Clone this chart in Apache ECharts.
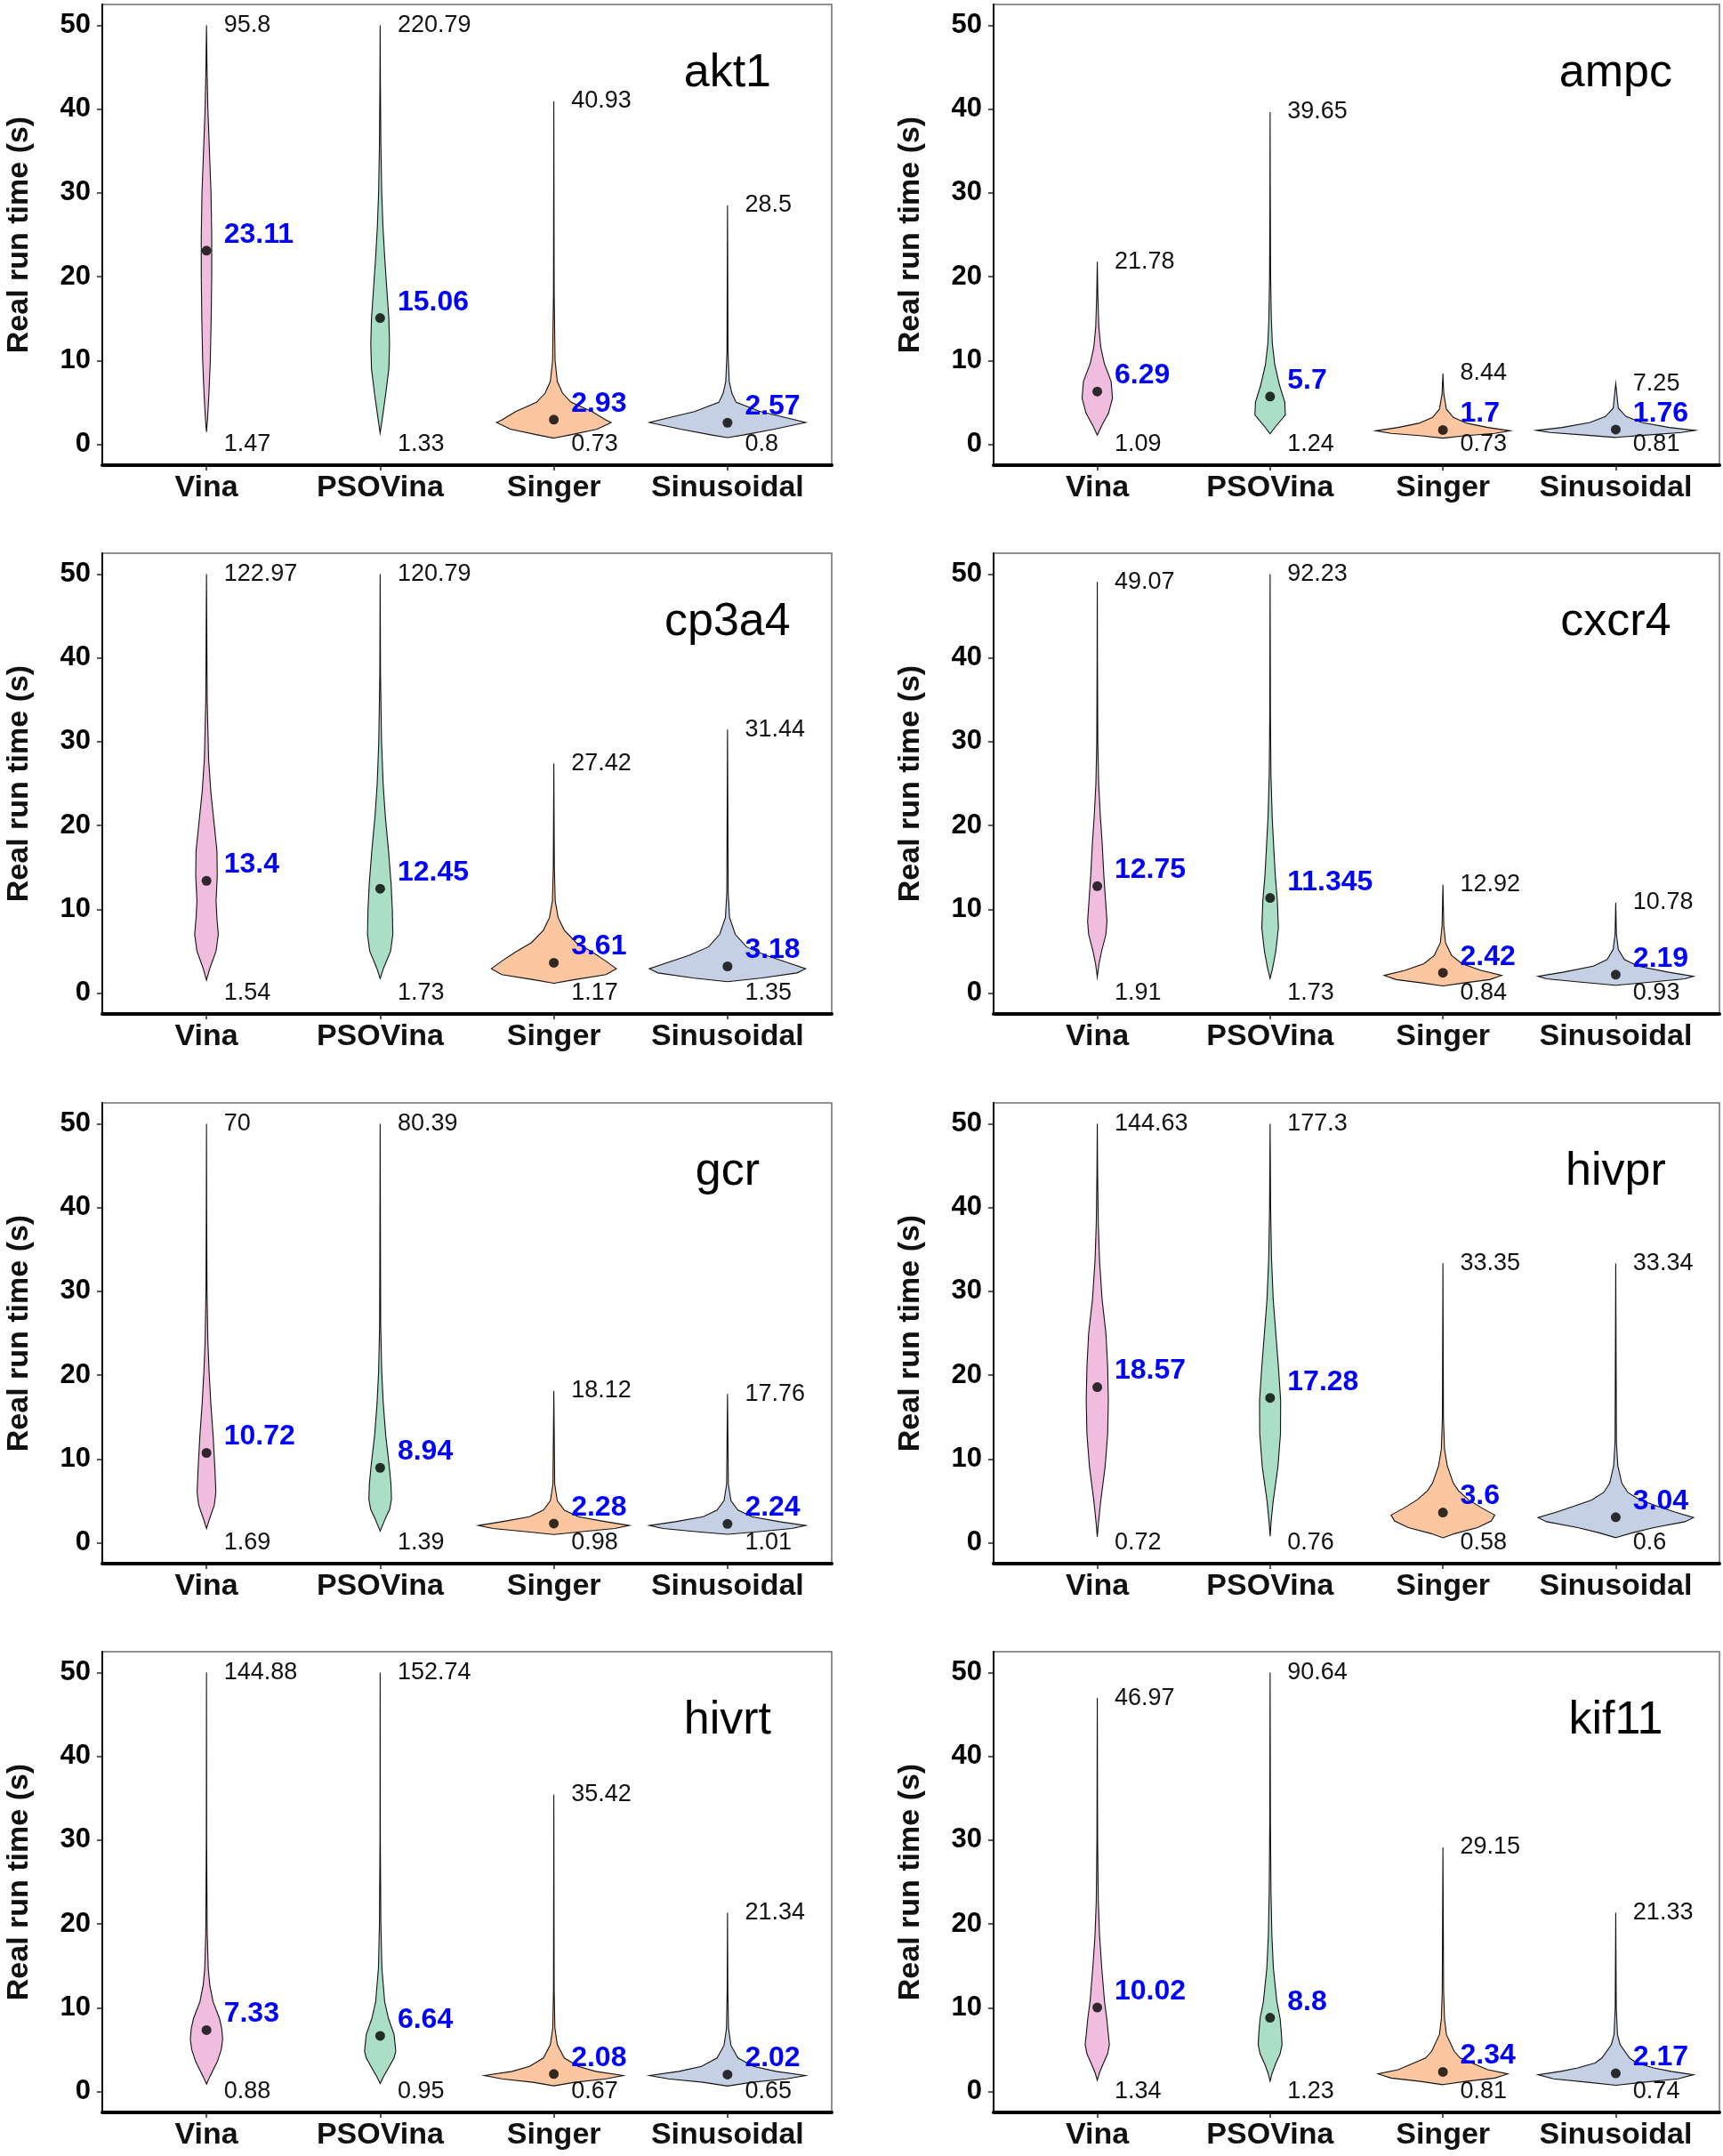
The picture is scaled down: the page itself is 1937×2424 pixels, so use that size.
<!DOCTYPE html>
<html>
<head>
<meta charset="utf-8">
<style>
html, body { margin: 0; padding: 0; background: #fff; }
#main { width: 1937px; height: 2424px; }
</style>
</head>
<body>
<div id="main"></div>
<script src="https://cdn.jsdelivr.net/npm/echarts@6/dist/echarts.min.js"></script>
<script>
// targets (one panel each) and the four methods
var targets = ['akt1', 'ampc', 'cp3a4', 'cxcr4', 'gcr', 'hivpr', 'hivrt', 'kif11'];
var methods = ['Vina', 'PSOVina', 'Singer', 'Sinusoidal'];
var yTicks = [0, 10, 20, 30, 40, 50];

// per target: [Vina, PSOVina, Singer, Sinusoidal]
var medianTimes = [
  [23.11, 15.06, 2.93, 2.57], [6.29, 5.7, 1.7, 1.76], [13.4, 12.45, 3.61, 3.18], [12.75, 11.345, 2.42, 2.19],
  [10.72, 8.94, 2.28, 2.24], [18.57, 17.28, 3.6, 3.04], [7.33, 6.64, 2.08, 2.02], [10.02, 8.8, 2.34, 2.17]
];
var maxTimes = [
  [95.8, 220.79, 40.93, 28.5], [21.78, 39.65, 8.44, 7.25], [122.97, 120.79, 27.42, 31.44], [49.07, 92.23, 12.92, 10.78],
  [70, 80.39, 18.12, 17.76], [144.63, 177.3, 33.35, 33.34], [144.88, 152.74, 35.42, 21.34], [46.97, 90.64, 29.15, 21.33]
];
var minTimes = [
  [1.47, 1.33, 0.73, 0.8], [1.09, 1.24, 0.73, 0.81], [1.54, 1.73, 1.17, 1.35], [1.91, 1.73, 0.84, 0.93],
  [1.69, 1.39, 0.98, 1.01], [0.72, 0.76, 0.58, 0.6], [0.88, 0.95, 0.67, 0.65], [1.34, 1.23, 0.81, 0.74]
];

// violin outlines: [time, half width in category units]
var shapeAkt1 = [
  [[1.47,0],[3,0.006],[6,0.014],[10,0.022],[15,0.027],[20,0.03],[25,0.03],[30,0.026],[35,0.017],[40,0.008],[45,0.003],[50,0]],
  [[1.33,0],[3,0.012],[6,0.032],[9,0.05],[12,0.054],[15,0.05],[18,0.04],[22,0.027],[26,0.016],[30,0.009],[36,0.004],[43,0.0015],[50,0]],
  [[0.73,0],[1.1,0.09],[1.8,0.25],[2.6,0.33],[2.9,0.3],[3.9,0.22],[5,0.1],[6.1,0.05],[7.5,0.02],[10,0.007],[18,0.002],[40.93,0]],
  [[0.8,0],[1.1,0.09],[1.8,0.27],[2.6,0.45],[3.2,0.33],[3.9,0.19],[5,0.05],[6.1,0.025],[7.5,0.01],[11,0.003],[28.5,0]]
];
var shapeAmpc = [
  [[1.09,0],[2.2,0.025],[3.7,0.065],[5.5,0.088],[7.5,0.08],[9.7,0.04],[11.6,0.02],[14,0.009],[18,0.003],[21.78,0]],
  [[1.24,0],[2.2,0.035],[3.5,0.088],[5,0.085],[7,0.055],[9.5,0.027],[12,0.013],[15,0.007],[20,0.003],[30,0.001],[39.65,0]],
  [[0.73,0],[1.0,0.12],[1.3,0.3],[1.6,0.39],[2.0,0.26],[2.5,0.14],[3.2,0.06],[4.2,0.02],[6,0.005],[8.44,0]],
  [[0.81,0],[1.1,0.18],[1.4,0.38],[1.65,0.46],[2.0,0.31],[2.6,0.15],[3.3,0.06],[4.3,0.015],[7.25,0]]
];
var shapeCp3a4 = [
  [[1.54,0],[3,0.02],[5,0.055],[7,0.068],[9,0.06],[11,0.055],[14,0.062],[17,0.06],[20,0.045],[24,0.025],[28,0.012],[35,0.004],[50,0]],
  [[1.73,0],[3,0.02],[5,0.06],[7,0.073],[10,0.07],[13,0.063],[17,0.048],[21,0.03],[25,0.017],[30,0.008],[38,0.002],[50,0]],
  [[1.17,0],[1.6,0.12],[2.2,0.3],[2.9,0.36],[3.8,0.3],[4.9,0.22],[6,0.13],[7.5,0.06],[9,0.025],[11,0.008],[15,0.003],[27.42,0]],
  [[1.35,0],[1.8,0.2],[2.4,0.4],[2.9,0.45],[3.6,0.35],[4.5,0.22],[5.5,0.11],[7,0.045],[9,0.012],[12,0.004],[31.44,0]]
];
var shapeCxcr4 = [
  [[1.91,0],[3.5,0.01],[5,0.025],[7,0.05],[8.6,0.056],[11,0.048],[14,0.038],[18,0.028],[21,0.018],[25,0.008],[30,0.003],[40,0.001],[49.07,0]],
  [[1.73,0],[3,0.015],[5,0.033],[7.8,0.048],[11,0.042],[14,0.03],[17,0.022],[21,0.012],[26,0.005],[33,0.002],[50,0]],
  [[0.84,0],[1.2,0.12],[1.6,0.27],[2.1,0.34],[2.7,0.22],[3.5,0.11],[4.5,0.05],[6,0.015],[8,0.005],[12.92,0]],
  [[0.93,0],[1.3,0.2],[1.7,0.4],[2.0,0.45],[2.5,0.3],[3.2,0.13],[4.0,0.05],[5.2,0.015],[7,0.004],[10.78,0]]
];
var shapeGcr = [
  [[1.69,0],[3,0.02],[4.5,0.045],[6,0.054],[9,0.048],[12.8,0.038],[16.6,0.025],[20.4,0.015],[24,0.008],[30,0.003],[40,0.001],[50,0]],
  [[1.39,0],[2.9,0.03],[4,0.055],[5.2,0.065],[7,0.062],[9,0.053],[12.8,0.032],[16.6,0.018],[20.4,0.009],[26,0.003],[50,0]],
  [[0.98,0],[1.3,0.15],[1.7,0.35],[2.05,0.435],[2.5,0.3],[3.1,0.14],[3.9,0.06],[5,0.02],[7,0.005],[18.12,0]],
  [[1.01,0],[1.3,0.17],[1.7,0.37],[2.05,0.45],[2.5,0.3],[3.1,0.14],[3.9,0.06],[5,0.02],[7,0.005],[17.76,0]]
];
var shapeHivpr = [
  [[0.72,0],[2.2,0.006],[5,0.02],[9,0.045],[13,0.06],[17,0.064],[21,0.06],[25,0.05],[29,0.028],[33.7,0.013],[38,0.006],[44,0.002],[50,0]],
  [[0.76,0],[2.5,0.006],[5,0.018],[9,0.045],[13,0.06],[17,0.061],[21,0.048],[25,0.033],[29,0.018],[34,0.008],[40,0.003],[50,0]],
  [[0.58,0],[1.1,0.07],[1.8,0.2],[2.6,0.28],[3.3,0.3],[4.2,0.22],[5.1,0.15],[6.2,0.09],[7.1,0.06],[9.2,0.025],[11.2,0.009],[15,0.003],[33.35,0]],
  [[0.6,0],[1.2,0.1],[1.8,0.22],[2.5,0.4],[3,0.45],[3.6,0.35],[4.3,0.25],[5.1,0.14],[6,0.07],[7.1,0.035],[9.2,0.012],[12,0.004],[33.34,0]]
];
var shapeHivrt = [
  [[0.88,0],[1.6,0.015],[3.6,0.063],[5,0.085],[6.2,0.093],[7.5,0.088],[8.7,0.075],[10.7,0.038],[12.7,0.019],[14.7,0.01],[19,0.004],[30,0.001],[50,0]],
  [[0.95,0],[1.8,0.02],[2.8,0.048],[4,0.08],[4.8,0.09],[6.8,0.08],[8.7,0.048],[10.7,0.026],[14.7,0.01],[20,0.004],[30,0.001],[50,0]],
  [[0.67,0],[1.1,0.12],[1.5,0.3],[1.9,0.4],[2.4,0.24],[3,0.14],[4,0.06],[5.6,0.02],[7.6,0.006],[12,0.002],[35.42,0]],
  [[0.65,0],[1.1,0.14],[1.5,0.34],[1.9,0.45],[2.4,0.28],[3,0.15],[4,0.06],[5.5,0.02],[7.5,0.006],[12,0.002],[21.34,0]]
];
var shapeKif11 = [
  [[1.34,0],[2.2,0.012],[3.2,0.032],[4.5,0.06],[5.6,0.07],[7,0.063],[8.7,0.055],[10.7,0.042],[14.7,0.026],[18.7,0.013],[22.7,0.006],[30,0.002],[46.97,0]],
  [[1.23,0],[2.2,0.012],[3.2,0.03],[4.5,0.058],[5.6,0.069],[7,0.065],[8.7,0.058],[10.7,0.039],[14.7,0.019],[18.7,0.01],[24,0.005],[32,0.002],[50,0]],
  [[0.81,0],[1.2,0.13],[1.6,0.3],[2.1,0.376],[2.6,0.26],[3.2,0.19],[4,0.1],[4.8,0.065],[6.8,0.02],[8.7,0.009],[12,0.004],[29.15,0]],
  [[0.74,0],[1.1,0.16],[1.5,0.36],[2.0,0.45],[2.4,0.32],[2.8,0.22],[3.4,0.12],[4,0.08],[5.6,0.025],[6.8,0.01],[10,0.003],[21.33,0]]
];
var violinShapes = [shapeAkt1, shapeAmpc, shapeCp3a4, shapeCxcr4, shapeGcr, shapeHivpr, shapeHivrt, shapeKif11];

var fills = ['#F1BDDF', '#ABDEC6', '#FCC6A0', '#C6D0E5'];
var font = 'Liberation Sans, Arial, sans-serif';
var colLeft = [115, 1117];
var colWidth = [820, 816];
var rowTop = [5, 622, 1240, 1857];
var boxHeight = 518;

var myChart = echarts.init(document.getElementById('main'));

var grids = [], xAxes = [], yAxes = [], series = [];

targets.forEach(function (name, p) {
    var col = p % 2, row = Math.floor(p / 2);
    grids.push({
        left: colLeft[col], top: rowTop[row], width: colWidth[col], height: boxHeight,
        show: true, borderColor: '#6e6e6e', borderWidth: 1.5, backgroundColor: '#fff'
    });
    xAxes.push({
        gridIndex: p, type: 'value', min: 0.4, max: 4.6,
        axisLine: { onZero: false, lineStyle: { color: '#000', width: 4 } },
        axisTick: { customValues: [1, 2, 3, 4], length: 6, lineStyle: { color: '#222', width: 1.5 } },
        axisLabel: {
            customValues: [1, 2, 3, 4],
            formatter: function (v) { return methods[Math.round(v) - 1]; },
            fontSize: 34, fontWeight: 'bold', color: '#111', fontFamily: font, margin: 9
        },
        splitLine: { show: false }
    });
    yAxes.push({
        gridIndex: p, type: 'value', min: -2.5, max: 52.5,
        axisLine: { show: true, onZero: false, lineStyle: { color: '#000', width: 2 } },
        axisTick: { show: true, customValues: yTicks, length: 6, lineStyle: { color: '#222', width: 1.5 } },
        axisLabel: { customValues: yTicks, fontSize: 31, fontWeight: 'bold', color: '#000', fontFamily: font, margin: 13 },
        splitLine: { show: false },
        name: 'Real run time (s)', nameLocation: 'middle', nameGap: 76,
        nameTextStyle: { fontSize: 34, fontWeight: 'bold', color: '#111', fontFamily: font }
    });

    // violins
    series.push({
        type: 'custom', xAxisIndex: p, yAxisIndex: p, z: 2,
        data: methods.map(function (m, i) { return [i + 1, medianTimes[p][i]]; }),
        renderItem: function (params, api) {
            var i = params.dataIndex;
            var cx = api.value(0);
            var prof = violinShapes[p][i];
            var right = prof.map(function (d) { return api.coord([cx + d[1], d[0]]); });
            var left = prof.slice().reverse().map(function (d) { return api.coord([cx - d[1], d[0]]); });
            return {
                type: 'polygon',
                shape: { points: right.concat(left) },
                style: { fill: fills[i], stroke: '#111', lineWidth: 1.1 }
            };
        }
    });

    // median dots
    series.push({
        type: 'scatter', xAxisIndex: p, yAxisIndex: p, z: 3,
        symbolSize: 11, itemStyle: { color: '#000' },
        data: methods.map(function (m, i) { return [i + 1, medianTimes[p][i]]; })
    });

    // text annotations
    var notes = [];
    methods.forEach(function (m, i) {
        notes.push({ x: i + 1.1, y: Math.min(maxTimes[p][i], 50), text: String(maxTimes[p][i]), kind: 'plain' });
        notes.push({ x: i + 1.1, y: 0, text: String(minTimes[p][i]), kind: 'plain' });
        notes.push({ x: i + 1.1, y: medianTimes[p][i] + 1.9, text: String(medianTimes[p][i]), kind: 'median' });
    });
    notes.push({ x: 4, y: 44.3, text: name, kind: 'title' });

    series.push({
        type: 'custom', xAxisIndex: p, yAxisIndex: p, z: 4,
        data: notes.map(function (n) { return [n.x, n.y]; }),
        renderItem: function (params, api) {
            var n = notes[params.dataIndex];
            var pt = api.coord([api.value(0), api.value(1)]);
            var st = { text: n.text, fontFamily: font, verticalAlign: 'middle', align: 'left', fill: '#111', fontSize: 27, fontWeight: 'normal' };
            if (n.kind === 'median') { st.fill = '#0000FF'; st.fontSize = 32; st.fontWeight = 'bold'; }
            if (n.kind === 'title') { st.fill = '#000'; st.fontSize = 52; st.align = 'center'; }
            return { type: 'text', x: pt[0], y: pt[1], style: st };
        }
    });
});

var option = {
    animation: false,
    backgroundColor: '#fff',
    grid: grids,
    xAxis: xAxes,
    yAxis: yAxes,
    series: series
};

myChart.setOption(option);
</script>
</body>
</html>
